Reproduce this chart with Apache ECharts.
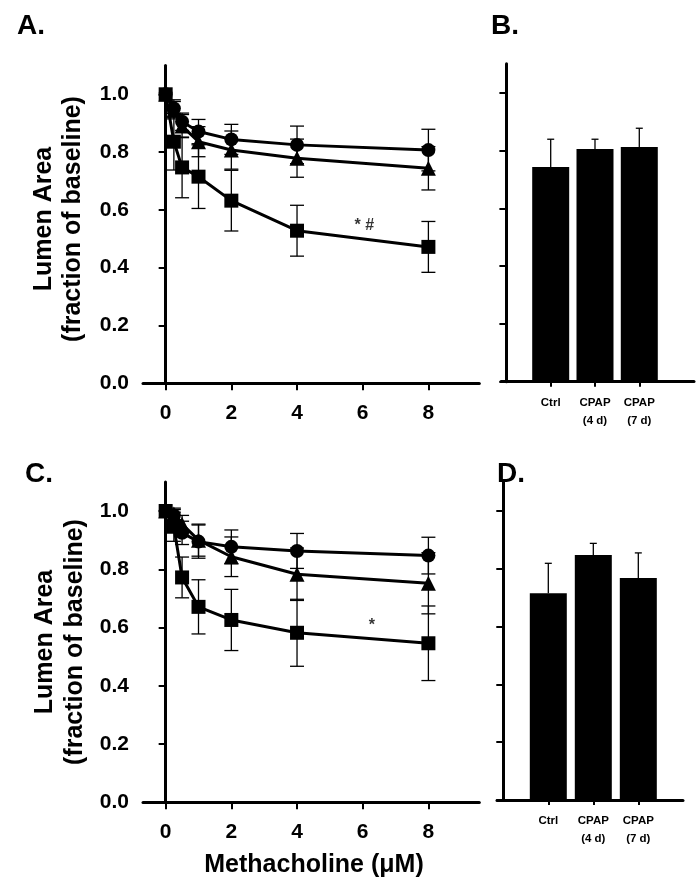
<!DOCTYPE html>
<html>
<head>
<meta charset="utf-8">
<script src="https://cdn.jsdelivr.net/npm/echarts@6/dist/echarts.min.js"></script>
<style>
  html, body { margin: 0; padding: 0; background: #fff; }
  #chart { width: 698px; height: 890px; }
</style>
</head>
<body>
<div id="chart"></div>
<script>
// ---- data ----
const doses = [0, 0.25, 0.5, 1, 2, 4, 8];
const xTicks = [0, 2, 4, 6, 8];
const yTicks = [0, 0.2, 0.4, 0.6, 0.8, 1.0];

const aCircle    = [1.0, 0.951, 0.905, 0.871, 0.844, 0.825, 0.807];
const aCircleErr = [0, 0.03, 0.03, 0.042, 0.052, 0.065, 0.072];
const aTri       = [1.0, 0.945, 0.89, 0.836, 0.807, 0.779, 0.744];
const aTriErr    = [0, 0.03, 0.04, 0.052, 0.066, 0.066, 0.075];
const aSquare    = [1.0, 0.836, 0.747, 0.715, 0.632, 0.528, 0.472];
const aSquareErr = [0, 0.098, 0.105, 0.11, 0.105, 0.088, 0.088];

const cCircle    = [1.0, 0.985, 0.925, 0.895, 0.877, 0.863, 0.847];
const cCircleErr = [0, 0.02, 0.04, 0.057, 0.058, 0.06, 0.063];
const cTri       = [1.0, 0.99, 0.955, 0.90, 0.843, 0.783, 0.752];
const cTriErr    = [0, 0.02, 0.03, 0.055, 0.068, 0.09, 0.105];
const cSquare    = [1.0, 0.946, 0.772, 0.671, 0.626, 0.582, 0.546];
const cSquareErr = [0, 0.05, 0.07, 0.093, 0.105, 0.115, 0.128];

const barCats = ['Ctrl', 'CPAP\n(4 d)', 'CPAP\n(7 d)'];
const barPos = [1, 2, 3];
const bVals = [0.743, 0.805, 0.812];
const bErr  = [0.096, 0.034, 0.065];
const dVals = [0.715, 0.848, 0.768];
const dErr  = [0.104, 0.040, 0.087];

const annA = { x: 6.05, y: 0.545, text: '* #' };
const annC = { x: 6.28, y: 0.607, text: '*' };

// ---- helpers ----
const FONT = '"Liberation Sans", Arial, sans-serif';

function errSeries(axisIdx, xs, ys, errs, capW, upperOnly) {
  return {
    type: 'custom',
    xAxisIndex: axisIdx, yAxisIndex: axisIdx,
    z: 1,
    data: xs.map((x, i) => [x, ys[i], errs[i]]),
    encode: { x: 0, y: 1 },
    renderItem: function (params, api) {
      const x = api.value(0), y = api.value(1), e = api.value(2);
      if (!e) return null;
      const top = api.coord([x, y + e]);
      const bot = api.coord([x, upperOnly ? y : y - e]);
      const hw = capW / 2;
      const st = { stroke: '#000', lineWidth: 1.3 };
      const children = [
        { type: 'line', shape: { x1: top[0], y1: top[1], x2: bot[0], y2: bot[1] }, style: st },
        { type: 'line', shape: { x1: top[0] - hw, y1: top[1], x2: top[0] + hw, y2: top[1] }, style: st }
      ];
      if (!upperOnly) {
        children.push({ type: 'line', shape: { x1: bot[0] - hw, y1: bot[1], x2: bot[0] + hw, y2: bot[1] }, style: st });
      }
      return { type: 'group', children: children };
    }
  };
}

function lineSeries(axisIdx, xs, ys, symbol, size, z) {
  return {
    type: 'line',
    xAxisIndex: axisIdx, yAxisIndex: axisIdx,
    data: xs.map((x, i) => [x, ys[i]]),
    symbol: symbol, symbolSize: size, showSymbol: true,
    lineStyle: { color: '#000', width: 3 },
    itemStyle: { color: '#000', borderWidth: 0 },
    z: z, animation: false, emphasis: { disabled: true }
  };
}

function annSeries(axisIdx, a) {
  return {
    type: 'scatter', xAxisIndex: axisIdx, yAxisIndex: axisIdx,
    data: [[a.x, a.y]], symbolSize: 0, silent: true,
    label: { show: true, position: 'inside', formatter: a.text, color: '#000',
             fontFamily: FONT, fontWeight: 'bold', fontSize: 16 }
  };
}

const axisLineStyle = { show: true, lineStyle: { color: '#000', width: 3 } };

function lineX(gridIdx) {
  return {
    type: 'value', gridIndex: gridIdx, min: -0.69, max: 9.55,
    axisLine: { show: true, onZero: false, lineStyle: { color: '#000', width: 3 } },
    axisTick: { show: true, inside: false, length: 7, customValues: xTicks, lineStyle: { color: '#000', width: 2 } },
    axisLabel: { show: true, customValues: xTicks, margin: 19, color: '#000', fontFamily: FONT,
                 fontWeight: 'bold', fontSize: 21, lineHeight: 21 },
    splitLine: { show: false }
  };
}
function lineY(gridIdx) {
  return {
    type: 'value', gridIndex: gridIdx, min: 0, max: 1.1, offset: -5,
    axisLine: axisLineStyle,
    axisTick: { show: true, inside: false, length: 7, customValues: yTicks, lineStyle: { color: '#000', width: 2 } },
    axisLabel: { show: true, customValues: yTicks, margin: 19, color: '#000', fontFamily: FONT,
                 fontWeight: 'bold', fontSize: 21, formatter: v => v.toFixed(1) },
    splitLine: { show: false }
  };
}
function barX(gridIdx, min, max) {
  return {
    type: 'value', gridIndex: gridIdx, min: min, max: max,
    axisLine: { show: true, onZero: false, lineStyle: { color: '#000', width: 3 } },
    axisTick: { show: true, inside: false, length: 5, customValues: barPos, lineStyle: { color: '#000', width: 2 } },
    axisLabel: { show: true, customValues: barPos, margin: 12, color: '#000', fontFamily: FONT,
                 fontWeight: 'bold', fontSize: 11.5, lineHeight: 18,
                 formatter: v => barCats[Math.round(v) - 1] },
    splitLine: { show: false }
  };
}
function barY(gridIdx, off) {
  return {
    type: 'value', gridIndex: gridIdx, min: 0, max: 1.1, offset: off,
    axisLine: axisLineStyle,
    axisTick: { show: true, inside: false, length: 7, customValues: yTicks, lineStyle: { color: '#000', width: 2 } },
    axisLabel: { show: false },
    splitLine: { show: false }
  };
}
function barSeries(axisIdx, vals) {
  return {
    type: 'bar', xAxisIndex: axisIdx, yAxisIndex: axisIdx,
    data: barPos.map((p, i) => [p, vals[i]]),
    barWidth: 37, itemStyle: { color: '#000' }, z: 2,
    emphasis: { disabled: true }
  };
}

function txt(x, y, text, size, rot) {
  return {
    type: 'text', x: x, y: y, rotation: rot || 0, silent: true,
    style: { text: text, fill: '#000', font: 'bold ' + size + 'px ' + FONT,
             textAlign: rot ? 'center' : 'left', textVerticalAlign: 'middle' }
  };
}

const option = {
  animation: false,
  backgroundColor: '#fff',
  grid: [
    { left: 143, top: 65.4, width: 336.3, height: 317.9 },   // A
    { left: 501, top: 63.8, width: 193, height: 317.9 },     // B
    { left: 143, top: 481.9, width: 336.3, height: 320.4 },  // C
    { left: 497, top: 482.1, width: 186, height: 317.9 }     // D
  ],
  xAxis: [lineX(0), barX(1, -0.122, 4.235), lineX(2), barX(3, -0.14, 3.993)],
  yAxis: [lineY(0), barY(1, -4), lineY(2), barY(3, -6)],
  series: [
    errSeries(0, doses, aCircle, aCircleErr, 14, false),
    errSeries(0, doses, aTri, aTriErr, 14, false),
    errSeries(0, doses, aSquare, aSquareErr, 14, false),
    lineSeries(0, doses, aCircle, 'circle', 14, 3),
    lineSeries(0, doses, aTri, 'triangle', 15, 4),
    lineSeries(0, doses, aSquare, 'rect', 14, 5),
    annSeries(0, annA),

    barSeries(1, bVals),
    errSeries(1, barPos, bVals, bErr, 7, true),

    errSeries(2, doses, cCircle, cCircleErr, 14, false),
    errSeries(2, doses, cTri, cTriErr, 14, false),
    errSeries(2, doses, cSquare, cSquareErr, 14, false),
    lineSeries(2, doses, cCircle, 'circle', 14, 3),
    lineSeries(2, doses, cTri, 'triangle', 15, 4),
    lineSeries(2, doses, cSquare, 'rect', 14, 5),
    annSeries(2, annC),

    barSeries(3, dVals),
    errSeries(3, barPos, dVals, dErr, 7, true)
  ],
  graphic: [
    txt(17, 26, 'A.', 28),
    txt(491, 26, 'B.', 28),
    txt(25, 474, 'C.', 28),
    txt(497, 474, 'D.', 28),
    txt(44, 219, 'Lumen Area', 25, Math.PI / 2),
    txt(73, 219, '(fraction of baseline)', 25, Math.PI / 2),
    txt(45, 642, 'Lumen Area', 25, Math.PI / 2),
    txt(75, 642, '(fraction of baseline)', 25, Math.PI / 2),
    { type: 'text', x: 314, y: 865, silent: true,
      style: { text: 'Methacholine (\u03bcM)', fill: '#000', font: 'bold 25px ' + FONT,
               textAlign: 'center', textVerticalAlign: 'middle' } }
  ]
};

const chart = echarts.init(document.getElementById('chart'), null, { renderer: 'canvas', width: 698, height: 890 });
chart.setOption(option);
</script>
</body>
</html>
